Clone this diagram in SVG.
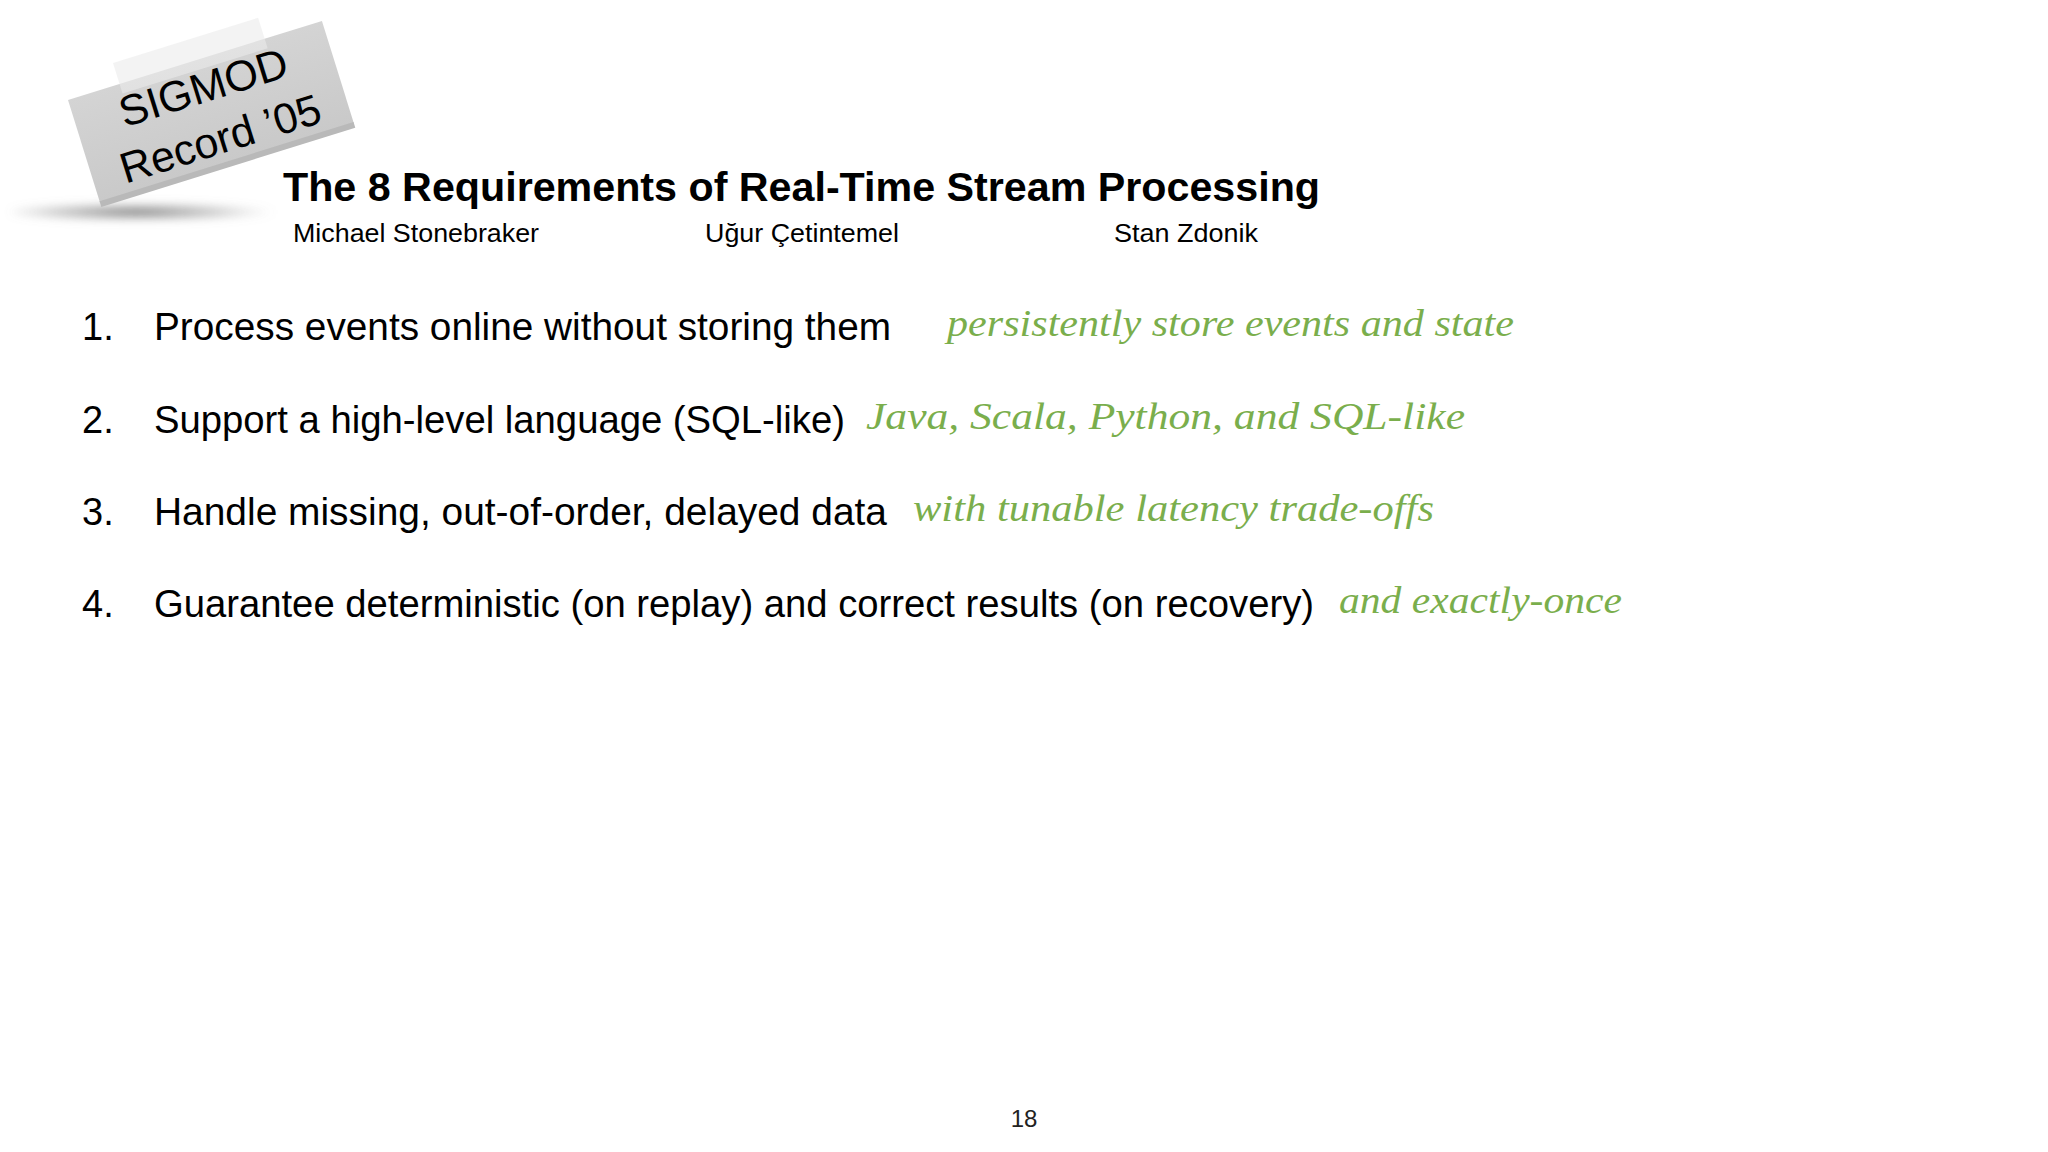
<svg xmlns="http://www.w3.org/2000/svg" width="2048" height="1152" viewBox="0 0 2048 1152">
<defs>
<style>
.title{font-family:"Liberation Sans",Arial,sans-serif;font-weight:bold;font-size:41px;fill:#000}
.author{font-family:"Liberation Sans",Arial,sans-serif;font-size:25px;fill:#000}
.item{font-family:"Liberation Sans",Arial,sans-serif;font-size:38px;fill:#000}
.note{font-family:"Liberation Serif","DejaVu Serif",serif;font-style:italic;font-size:37px;fill:#7aae4c}
.sticker{font-family:"Liberation Sans",Arial,sans-serif;font-size:43px;fill:#000;text-anchor:middle}
.page{font-family:"Liberation Sans",Arial,sans-serif;font-size:24px;fill:#222;text-anchor:middle}
</style>
<linearGradient id="paper" x1="0" y1="0" x2="0" y2="1">
<stop offset="0" stop-color="#d4d4d4"/>
<stop offset="1" stop-color="#c9c9c9"/>
</linearGradient>
<radialGradient id="shade" cx="0.45" cy="0.5" r="0.5">
<stop offset="0" stop-color="#555" stop-opacity="0.75"/>
<stop offset="0.6" stop-color="#777" stop-opacity="0.35"/>
<stop offset="1" stop-color="#999" stop-opacity="0"/>
</radialGradient>
<filter id="blur" x="-30%" y="-300%" width="160%" height="700%">
<feGaussianBlur stdDeviation="4"/>
</filter>
</defs>
<rect width="2048" height="1152" fill="#ffffff"/>

<g id="sticker">
<ellipse cx="150" cy="212" rx="140" ry="10" fill="url(#shade)" filter="url(#blur)"/>
<g transform="translate(68,100) rotate(-17.3)">
<rect x="0" y="0" width="266" height="108" fill="url(#paper)"/>
<rect x="0" y="106" width="266" height="6" fill="#b9b9b9"/>
<rect x="54" y="-22" width="152" height="32" fill="#ebebeb" opacity="0.6"/>
<text class="sticker" x="133" y="43">SIGMOD</text>
<text class="sticker" x="134" y="97">Record ’05</text>
</g>
</g>

<g id="header">
<text class="title" x="283" y="201" textLength="1037" lengthAdjust="spacingAndGlyphs">The 8 Requirements of Real-Time Stream Processing</text>
<text class="author" x="293" y="242" textLength="246" lengthAdjust="spacingAndGlyphs">Michael Stonebraker</text>
<text class="author" x="705" y="242" textLength="194" lengthAdjust="spacingAndGlyphs">Uğur Çetintemel</text>
<text class="author" x="1114" y="242" textLength="144" lengthAdjust="spacingAndGlyphs">Stan Zdonik</text>
</g>

<g id="item1">
<text class="item" x="82" y="340">1.</text>
<text class="item" x="154" y="340" textLength="737" lengthAdjust="spacingAndGlyphs">Process events online without storing them</text>
<text class="note" x="947" y="336" textLength="567" lengthAdjust="spacingAndGlyphs">persistently store events and state</text>
</g>
<g id="item2">
<text class="item" x="82" y="433">2.</text>
<text class="item" x="154" y="433" textLength="691" lengthAdjust="spacingAndGlyphs">Support a high-level language (SQL-like)</text>
<text class="note" x="866" y="429" textLength="599" lengthAdjust="spacingAndGlyphs">Java, Scala, Python, and SQL-like</text>
</g>
<g id="item3">
<text class="item" x="82" y="525">3.</text>
<text class="item" x="154" y="525" textLength="733" lengthAdjust="spacingAndGlyphs">Handle missing, out-of-order, delayed data</text>
<text class="note" x="913" y="521" textLength="521" lengthAdjust="spacingAndGlyphs">with tunable latency trade-offs</text>
</g>
<g id="item4">
<text class="item" x="82" y="617">4.</text>
<text class="item" x="154" y="617" textLength="1160" lengthAdjust="spacingAndGlyphs">Guarantee deterministic (on replay) and correct results (on recovery)</text>
<text class="note" x="1339" y="613" textLength="283" lengthAdjust="spacingAndGlyphs">and exactly-once</text>
</g>

<g id="connectors"></g>

<text class="page" x="1024" y="1127">18</text>
</svg>
